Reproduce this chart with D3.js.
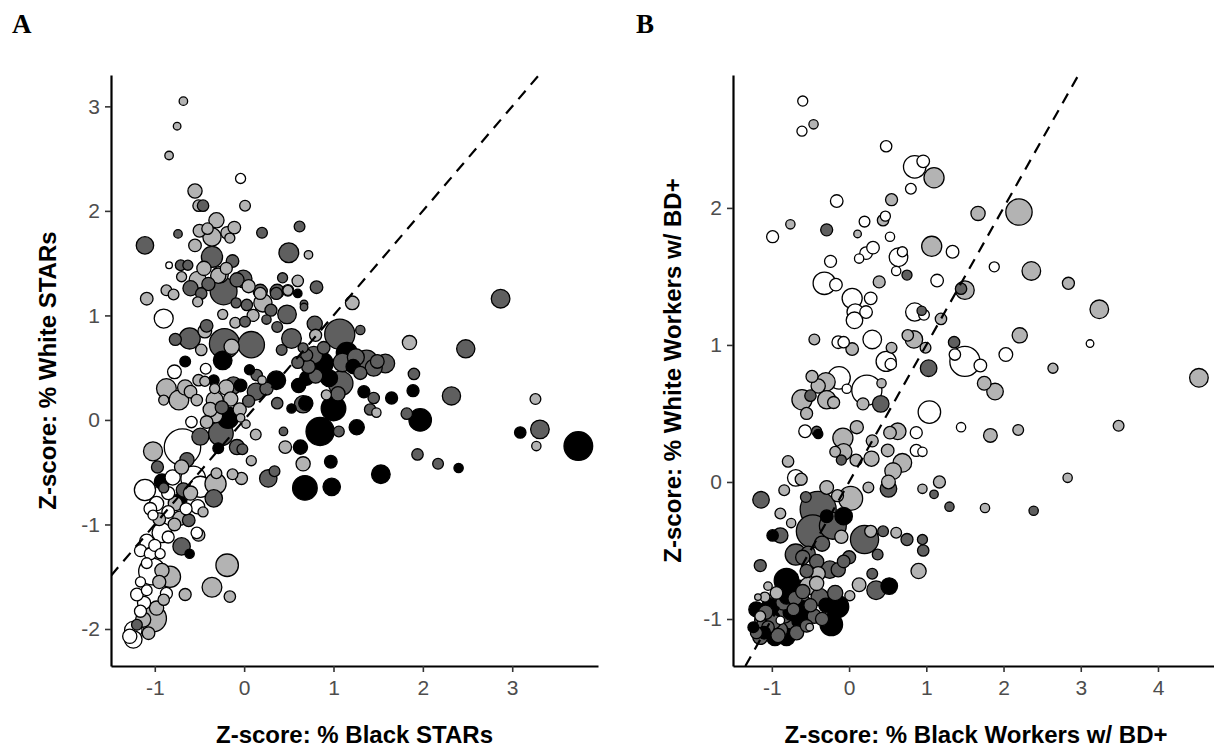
<!DOCTYPE html>
<html>
<head>
<meta charset="utf-8">
<script src="https://cdn.jsdelivr.net/npm/d3@7"></script>
<style>
  body { margin: 0; background: #fff; }
  svg { display: block; font-family: "Liberation Sans", Arial, sans-serif; }
</style>
</head>
<body>
<svg id="chart" width="1214" height="749"></svg>
<script>
// groups: 1 = white, 2 = light gray, 3 = dark gray, 4 = black
const groupFill = {1: "#ffffff", 2: "#b3b3b3", 3: "#5f5f5f", 4: "#000000"}

// panel A: [z black STARs, z white STARs, size, group]
const starsPoints = [
  [-0.68, 3.05, 5, 2], [-0.75, 2.81, 4, 2], [-0.84, 2.53, 5, 2], [-0.04, 2.31, 7, 1],
  [-0.55, 2.19, 14, 2], [-0.51, 2.05, 9, 2], [-0.46, 2.05, 9, 3], [0.01, 2.05, 8, 2],
  [-0.31, 1.91, 16, 2], [-0.50, 1.81, 11, 2], [-0.41, 1.83, 9, 2], [-0.36, 1.75, 23, 2],
  [-0.19, 1.79, 11, 2], [-0.11, 1.84, 11, 2], [-0.16, 1.74, 7, 2], [-0.55, 1.67, 11, 2],
  [-0.74, 1.78, 5, 3], [0.20, 1.79, 8, 3], [0.62, 1.85, 8, 3], [-1.11, 1.67, 21, 3],
  [-0.36, 1.56, 31, 3], [0.50, 1.60, 27, 3], [0.72, 1.58, 5, 2], [-0.13, 1.52, 11, 3],
  [-0.84, 1.48, 3, 1], [-0.71, 1.48, 8, 3], [-0.63, 1.48, 7, 3], [-0.70, 1.37, 7, 2],
  [-0.52, 1.34, 20, 2], [-0.29, 1.38, 16, 2], [-0.01, 1.35, 21, 3], [-0.08, 1.34, 14, 3],
  [0.43, 1.36, 7, 3], [0.60, 1.33, 9, 2], [0.81, 1.27, 11, 3], [-0.87, 1.24, 8, 2],
  [-0.79, 1.20, 8, 2], [-0.60, 1.26, 16, 3], [-0.23, 1.23, 50, 3], [0.18, 1.23, 14, 3],
  [0.37, 1.23, 14, 3], [0.49, 1.24, 9, 2], [0.60, 1.21, 5, 4], [-1.09, 1.16, 11, 2],
  [-0.90, 0.97, 25, 1], [-0.48, 1.21, 9, 3], [-0.52, 1.13, 7, 2], [-0.27, 1.39, 19, 2],
  [-0.09, 1.12, 7, 3], [-0.24, 1.01, 7, 2], [0.03, 1.10, 9, 3], [-0.10, 0.93, 8, 2],
  [0.01, 0.94, 8, 3], [0.21, 1.12, 23, 2], [0.18, 1.21, 10, 2], [0.25, 0.96, 6, 3],
  [0.36, 1.21, 10, 3], [0.37, 0.89, 8, 3], [0.48, 1.01, 24, 3], [0.49, 1.24, 7, 2],
  [0.67, 1.11, 4, 3], [0.67, 1.08, 4, 3], [1.21, 1.12, 13, 2], [0.79, 0.92, 16, 3],
  [0.80, 0.81, 10, 2], [0.53, 0.78, 27, 3], [1.07, 0.82, 63, 3], [1.30, 0.86, 6, 3],
  [1.85, 0.74, 14, 2], [2.48, 0.68, 23, 3], [2.87, 1.16, 24, 3], [1.90, 0.44, 9, 3],
  [0.08, 0.72, 48, 3], [-0.22, 0.73, 63, 3], [-0.14, 0.70, 16, 2], [-0.24, 0.57, 24, 4],
  [-0.61, 0.78, 31, 3], [-0.44, 0.85, 13, 2], [-0.42, 0.90, 11, 3], [-0.77, 0.77, 10, 3],
  [-0.48, 0.67, 9, 2], [-0.66, 0.56, 8, 4], [-0.78, 0.46, 13, 1], [-0.43, 0.49, 8, 1],
  [0.06, 0.48, 7, 4], [0.42, 0.67, 8, 3], [0.66, 0.69, 7, 3], [0.70, 0.62, 10, 3],
  [0.72, 0.51, 13, 3], [0.87, 0.54, 35, 4], [0.89, 0.69, 11, 3], [1.15, 0.64, 31, 4],
  [1.37, 0.56, 35, 3], [1.58, 0.54, 24, 3], [1.49, 0.56, 13, 3], [0.36, 0.38, 24, 4],
  [0.14, 0.43, 9, 3], [0.20, 0.38, 5, 2], [-0.87, 0.30, 27, 2], [-0.73, 0.19, 27, 2],
  [-0.66, 0.31, 16, 2], [-0.60, 0.27, 11, 2], [-0.53, 0.19, 9, 2], [-0.90, 0.19, 7, 2],
  [-0.51, 0.38, 9, 2], [-0.44, 0.37, 7, 2], [-0.34, 0.38, 8, 4], [-0.33, 0.19, 20, 2],
  [-0.33, 0.30, 7, 2], [-0.20, 0.31, 16, 2], [-0.12, 0.33, 20, 3], [-0.04, 0.33, 11, 4],
  [0.13, 0.27, 20, 3], [0.61, 0.33, 14, 4], [0.70, 0.40, 14, 4], [0.78, 0.62, 21, 3],
  [1.08, 0.35, 42, 3], [1.22, 0.51, 14, 4], [0.37, 0.16, 9, 3], [0.53, 0.11, 6, 4],
  [0.66, 0.15, 21, 3], [0.69, 0.16, 14, 4], [1.00, 0.11, 42, 4], [0.92, 0.24, 7, 2],
  [0.85, -0.11, 55, 4], [1.06, -0.11, 8, 3], [0.44, -0.11, 5, 3], [0.46, -0.26, 11, 2],
  [0.63, -0.26, 14, 4], [0.66, -0.42, 14, 2], [0.97, -0.40, 11, 4], [0.68, -0.65, 42, 4],
  [0.98, -0.64, 21, 4], [0.27, -0.56, 21, 3], [0.34, -0.49, 8, 3], [-0.13, -0.52, 8, 2],
  [-0.03, -0.56, 10, 2], [0.08, -0.39, 7, 2], [0.13, -0.14, 8, 2], [0.02, -0.04, 5, 2],
  [-0.04, 0.02, 5, 2], [-0.18, 0.02, 31, 4], [-0.26, -0.13, 42, 3], [-0.32, 0.04, 14, 2],
  [-0.42, -0.02, 11, 2], [-0.49, -0.16, 20, 3], [-0.59, -0.02, 9, 1], [-0.08, -0.26, 16, 3],
  [-0.02, -0.28, 8, 3], [-0.29, -0.27, 8, 4], [-0.69, -0.26, 92, 1], [-1.02, -0.30, 25, 2],
  [-0.97, -0.45, 10, 3], [-0.64, -0.38, 14, 3], [-1.11, -0.67, 31, 1], [-0.92, -0.59, 16, 4],
  [-0.90, -0.65, 7, 3], [-0.72, -0.77, 14, 4], [-0.68, -0.67, 14, 3], [-0.57, -0.56, 42, 1],
  [-0.49, -0.64, 31, 1], [-0.32, -0.61, 31, 2], [-0.34, -0.75, 21, 3], [-0.31, -0.51, 8, 2],
  [-0.52, -0.83, 14, 1], [-0.46, -0.88, 7, 2], [-0.77, -0.80, 14, 2], [-0.98, -0.80, 14, 1],
  [-1.05, -0.85, 11, 1], [-0.85, -0.88, 11, 1], [-0.72, -0.94, 14, 2], [-0.62, -0.96, 11, 3],
  [-1.02, -0.91, 7, 1], [-0.92, -1.08, 27, 1], [-0.85, -1.12, 10, 1], [-0.53, -1.08, 9, 1],
  [-0.51, -1.10, 11, 2], [-0.70, -1.21, 21, 3], [-0.61, -1.28, 6, 4], [-1.09, -1.16, 14, 1],
  [-1.16, -1.25, 10, 1], [-1.05, -1.28, 10, 1], [-0.94, -1.28, 7, 1], [-1.09, -1.37, 8, 1],
  [-1.03, -1.45, 50, 1], [-0.92, -1.44, 14, 2], [-0.83, -1.50, 31, 2], [-1.16, -1.55, 7, 1],
  [-1.09, -1.63, 8, 1], [-1.20, -1.67, 11, 1], [-0.87, -1.66, 10, 1], [-0.90, -1.72, 9, 2],
  [-0.66, -1.67, 10, 2], [-0.36, -1.60, 27, 2], [-0.19, -1.39, 35, 2], [-0.16, -1.69, 9, 2],
  [-1.02, -1.90, 50, 2], [-1.16, -1.83, 10, 1], [-1.13, -1.91, 16, 2], [-1.24, -2.01, 21, 1],
  [-1.24, -2.10, 21, 1], [-1.28, -2.07, 14, 1], [-1.20, -1.96, 8, 3], [-1.07, -2.04, 11, 2],
  [1.34, 0.27, 10, 4], [1.45, 0.21, 9, 3], [1.41, 0.10, 9, 3], [1.48, 0.07, 6, 2],
  [1.65, 0.21, 10, 4], [1.89, 0.28, 10, 4], [1.82, 0.06, 9, 3], [1.97, 0.00, 35, 4],
  [1.94, -0.33, 9, 3], [2.17, -0.42, 8, 3], [2.40, -0.46, 6, 4], [1.53, -0.52, 24, 4],
  [2.32, 0.23, 23, 3], [3.26, 0.20, 8, 2], [3.31, -0.09, 24, 3], [3.09, -0.12, 9, 4],
  [3.27, -0.25, 6, 2], [3.74, -0.25, 57, 4], [1.26, -0.07, 16, 4],
  [1.10, 0.55, 24, 3], [1.25, 0.60, 20, 3], [1.45, 0.50, 20, 3], [0.95, 0.40, 20, 4],
  [1.05, 0.25, 14, 3], [0.80, 0.42, 14, 3], [1.30, 0.45, 12, 3], [0.60, 0.55, 10, 3],
  [-0.38, 0.10, 14, 2], [-0.25, 0.12, 12, 3], [-0.15, 0.20, 14, 2], [0.05, 0.18, 10, 3],
  [-0.05, 0.10, 12, 2], [0.25, 0.30, 12, 3], [-0.80, -0.55, 16, 1], [-0.70, -0.45, 14, 2],
  [-0.60, -0.70, 14, 2], [-0.85, -0.70, 12, 1], [-0.95, -0.95, 11, 2], [-0.78, -1.00, 11, 2],
  [-0.65, -0.85, 10, 1], [-1.00, -1.20, 10, 1], [-0.95, -1.55, 12, 2], [-1.12, -1.75, 12, 1],
  [-0.98, -1.80, 14, 2], [-0.45, 1.45, 14, 2], [-0.40, 1.30, 12, 3], [-0.20, 1.45, 10, 2],
  [0.05, 1.28, 12, 2], [0.30, 1.05, 10, 3], [0.10, 1.00, 10, 2]
]

// panel B: [z black workers BD+, z white workers BD+, size, group]
const workersPoints = [
  [-0.60, 2.78, 7, 1], [-0.61, 2.56, 7, 1], [-0.46, 2.61, 6, 2], [0.48, 2.45, 9, 1],
  [0.85, 2.30, 35, 1], [0.96, 2.34, 11, 1], [1.10, 2.22, 28, 2], [0.80, 2.14, 8, 1],
  [-0.16, 2.05, 11, 1], [0.55, 2.06, 10, 2], [-0.76, 1.88, 6, 2], [-0.99, 1.79, 10, 1],
  [-0.29, 1.84, 10, 3], [0.20, 1.90, 8, 1], [0.44, 1.91, 9, 2], [0.47, 1.94, 7, 1],
  [0.11, 1.81, 4, 2], [0.53, 1.79, 6, 1], [1.07, 1.72, 28, 2], [1.34, 1.68, 11, 1],
  [1.67, 1.96, 14, 2], [2.20, 1.97, 48, 2], [1.88, 1.57, 7, 1], [2.36, 1.54, 24, 2],
  [2.84, 1.45, 10, 2], [3.24, 1.26, 24, 2], [3.12, 1.01, 4, 1], [2.64, 0.83, 7, 2],
  [2.21, 1.07, 16, 2], [2.03, 0.93, 13, 1], [1.50, 1.40, 24, 2], [1.45, 1.41, 9, 3],
  [1.14, 1.47, 11, 1], [1.19, 1.19, 9, 2], [1.36, 1.02, 9, 3], [1.37, 0.93, 9, 1],
  [1.50, 0.88, 63, 1], [1.70, 0.85, 11, 1], [1.03, 0.83, 19, 3], [0.84, 1.04, 21, 2],
  [0.76, 1.07, 9, 2], [0.99, 0.98, 8, 2], [0.85, 1.24, 23, 1], [0.94, 1.25, 6, 3],
  [0.97, 1.22, 8, 1], [0.64, 1.64, 24, 1], [0.69, 1.68, 7, 1], [0.75, 1.51, 7, 3],
  [0.61, 1.54, 6, 1], [0.39, 1.46, 10, 2], [-0.24, 1.61, 10, 1], [-0.32, 1.45, 35, 1],
  [-0.17, 1.44, 11, 1], [0.13, 1.63, 6, 1], [0.22, 1.67, 11, 1], [0.31, 1.71, 11, 1],
  [0.04, 1.34, 28, 1], [0.28, 1.34, 11, 1], [0.08, 1.24, 19, 1], [0.07, 1.18, 19, 1],
  [0.22, 1.24, 11, 1], [0.30, 1.04, 24, 1], [-0.45, 1.04, 8, 2], [-0.14, 1.02, 11, 1],
  [-0.07, 1.02, 9, 1], [0.04, 0.97, 11, 2], [0.55, 0.98, 8, 2], [0.48, 0.88, 28, 1],
  [0.54, 0.86, 9, 1],
  [4.53, 0.76, 24, 2], [1.89, 0.66, 19, 2], [1.75, 0.72, 13, 2], [1.04, 0.51, 35, 1],
  [1.45, 0.40, 6, 1], [1.83, 0.34, 13, 2], [2.19, 0.38, 8, 2], [3.49, 0.41, 8, 2],
  [0.87, 0.36, 10, 1], [0.87, 0.23, 10, 1], [0.95, 0.22, 6, 1], [2.83, 0.03, 6, 2],
  [1.17, 0.00, 10, 2], [0.95, -0.05, 6, 2], [1.10, -0.09, 5, 3], [1.30, -0.18, 6, 3],
  [1.76, -0.19, 6, 2], [2.39, -0.21, 6, 3], [0.90, -0.65, 16, 2], [0.95, -0.42, 7, 3],
  [0.96, -0.50, 9, 3], [0.75, -0.42, 10, 3], [0.61, -0.37, 8, 2], [0.44, -0.36, 8, 3],
  [0.28, -0.36, 10, 2], [0.20, -0.42, 55, 3], [0.37, -0.53, 8, 3], [0.52, -0.76, 19, 4],
  [0.35, -0.79, 24, 3], [0.13, -0.75, 13, 2], [0.30, -0.67, 8, 3], [0.01, -0.83, 7, 2],
  [-0.15, -0.91, 35, 4], [-0.23, -1.04, 35, 4], [-0.51, -1.06, 4, 2], [0.02, -0.12, 40, 2],
  [-0.07, -0.25, 21, 4], [-0.21, -0.32, 50, 3], [-0.40, -0.20, 90, 3], [-0.47, -0.36, 75, 3],
  [-0.69, -0.53, 31, 3], [-0.89, -0.39, 16, 3], [-0.99, -0.39, 9, 4], [-0.89, -0.23, 8, 2],
  [-0.75, -0.30, 6, 2], [-1.14, -0.13, 19, 3], [-0.84, -0.06, 8, 2], [-0.79, 0.15, 9, 2],
  [-0.69, 0.03, 19, 1], [-0.62, 0.02, 10, 2], [-0.56, -0.11, 8, 3], [-0.29, -0.04, 13, 2],
  [-0.15, -0.10, 10, 2], [0.25, -0.04, 8, 2], [0.51, -0.05, 19, 3], [0.51, 0.00, 13, 2],
  [-0.08, 0.32, 28, 2], [-0.07, 0.22, 19, 2], [0.09, 0.16, 10, 2], [0.29, 0.17, 16, 2],
  [0.50, 0.23, 11, 2], [-0.10, 0.16, 7, 3], [-0.18, 0.22, 8, 2], [0.53, 0.36, 11, 2],
  [0.63, 0.37, 19, 2], [0.69, 0.14, 24, 2], [0.57, 0.08, 19, 2], [-0.57, 0.37, 11, 1],
  [-0.42, 0.37, 7, 3], [-0.40, 0.35, 6, 4], [-0.61, 0.60, 28, 2], [-0.50, 0.63, 9, 3],
  [-0.29, 0.60, 23, 2], [-0.20, 0.58, 10, 2], [0.23, 0.67, 63, 1], [0.41, 0.57, 19, 3],
  [0.18, 0.57, 10, 2], [0.42, 0.72, 6, 2], [-0.03, 0.68, 6, 1], [-0.48, 0.77, 10, 2],
  [-0.30, 0.73, 24, 2], [-0.13, 0.76, 35, 1],
  [-0.29, -0.25, 11, 4], [-0.53, -0.52, 14, 3], [-1.15, -0.61, 10, 3], [-0.42, -0.58, 14, 3],
  [-0.25, -0.64, 21, 3], [-0.40, -0.67, 14, 2], [-0.07, -0.58, 11, 3], [-0.14, -0.64, 14, 3],
  [-0.81, -0.72, 42, 4], [-0.68, -0.79, 31, 4], [-0.53, -0.76, 21, 2], [-0.42, -0.74, 14, 2],
  [-0.63, -0.89, 31, 3], [-0.38, -0.84, 21, 3], [-0.18, -0.81, 16, 3],
  [-1.20, -0.93, 16, 4], [-1.11, -1.01, 21, 3], [-1.02, -0.91, 21, 4], [-0.85, -0.96, 27, 3],
  [-0.76, -1.03, 42, 3], [-0.63, -1.01, 21, 4], [-1.15, -1.13, 16, 3], [-0.96, -1.13, 21, 4],
  [-0.81, -1.13, 21, 4], [-0.68, -1.10, 14, 3], [-1.05, -1.06, 11, 3], [-1.24, -1.06, 8, 4],
  [-0.94, -0.81, 11, 2], [-1.09, -0.84, 7, 2], [-0.81, -0.84, 14, 4], [-0.59, -0.93, 21, 4],
  [-1.05, -0.76, 5, 2], [-1.18, -0.84, 3, 2], [-0.89, -1.01, 5, 1], [-1.10, -1.10, 11, 4],
  [-0.98, -1.02, 15, 3], [-1.15, -0.98, 8, 2], [-0.72, -0.93, 11, 3], [-0.55, -1.05, 11, 3],
  [-1.00, -1.00, 20, 4], [-0.90, -1.08, 18, 3], [-0.75, -0.95, 18, 4], [-1.08, -0.95, 14, 3],
  [-0.85, -0.88, 16, 3], [-0.70, -0.85, 14, 3], [-0.92, -1.12, 14, 3], [-1.12, -1.05, 12, 3],
  [-0.60, -0.80, 14, 3], [-0.50, -0.90, 12, 3], [-0.45, -0.98, 14, 3], [-1.20, -1.10, 10, 3],
  [-0.35, -1.00, 12, 3], [-0.30, -0.90, 14, 4], [-0.60, -0.55, 14, 3], [-0.35, -0.45, 16, 3],
  [-0.10, -0.40, 12, 2], [-0.55, -0.65, 12, 3], [0.00, -0.55, 12, 3], [-0.40, 0.70, 14, 2],
  [-0.55, 0.50, 10, 2], [0.10, 0.40, 12, 2], [0.30, 0.30, 10, 2]
]

const starsXTicks = [-1, 0, 1, 2, 3]
const starsYTicks = [-2, -1, 0, 1, 2, 3]
const workersXTicks = [-1, 0, 1, 2, 3, 4]
const workersYTicks = [-1, 0, 1, 2]

const panels = [
  {
    label: "A", points: starsPoints,
    xTicks: starsXTicks, yTicks: starsYTicks,
    xTitle: "Z-score: % Black STARs", yTitle: "Z-score: % White STARs",
    xDomain: [-1.49, 3.96], yDomain: [-2.354, 3.30],
    left: 111, right: 598, labelX: 12, yTitleX: 56
  },
  {
    label: "B", points: workersPoints,
    xTicks: workersXTicks, yTicks: workersYTicks,
    xTitle: "Z-score: % Black Workers w/ BD+", yTitle: "Z-score: % White Workers w/ BD+",
    xDomain: [-1.503, 4.79], yDomain: [-1.343, 2.97],
    left: 733, right: 1219, labelX: 636, yTitleX: 681
  }
]

const plotTop = 75, plotBottom = 666

const svg = d3.select("#chart")

// same area scale for both panels
const rScale = d3.scaleSqrt().domain([0, 100]).range([0, 19])

panels.forEach((p, i) => {
  const x = d3.scaleLinear().domain(p.xDomain).range([p.left, p.right])
  const y = d3.scaleLinear().domain(p.yDomain).range([plotBottom, plotTop])
  const g = svg.append("g")

  const clipId = "clip" + i
  svg.append("clipPath").attr("id", clipId)
    .append("rect")
    .attr("x", p.left).attr("y", plotTop)
    .attr("width", p.right - p.left).attr("height", plotBottom - plotTop)

  // bigger circles first so the small ones stay visible
  const pts = p.points.slice().sort((a, b) => b[2] - a[2])
  g.append("g")
    .selectAll("circle")
    .data(pts)
    .join("circle")
    .attr("cx", d => x(d[0]))
    .attr("cy", d => y(d[1]))
    .attr("r", d => rScale(d[2]))
    .attr("fill", d => groupFill[d[3]])
    .attr("stroke", "#000")
    .attr("stroke-width", 1.3)

  // identity line y = x
  const lo = Math.max(p.xDomain[0], p.yDomain[0])
  const hi = Math.min(p.xDomain[1], p.yDomain[1])
  g.append("line")
    .attr("clip-path", `url(#${clipId})`)
    .attr("x1", x(lo)).attr("y1", y(lo))
    .attr("x2", x(hi)).attr("y2", y(hi))
    .attr("stroke", "#000")
    .attr("stroke-width", 2.2)
    .attr("stroke-dasharray", "11,8")

  const xAxis = g.append("g")
    .attr("transform", `translate(0,${plotBottom})`)
    .call(d3.axisBottom(x).tickValues(p.xTicks).tickSize(6).tickSizeOuter(0).tickPadding(8))
  const yAxis = g.append("g")
    .attr("transform", `translate(${p.left},0)`)
    .call(d3.axisLeft(y).tickValues(p.yTicks).tickSize(6).tickSizeOuter(0).tickPadding(5))

  ;[xAxis, yAxis].forEach(ax => {
    ax.select(".domain").attr("stroke", "#000").attr("stroke-width", 2.2)
    ax.selectAll(".tick line").attr("stroke", "#333").attr("stroke-width", 1.6)
    ax.selectAll(".tick text")
      .attr("fill", "#4d4d4d")
      .style("font-size", "21px")
      .style("font-family", '"Liberation Sans", Arial, sans-serif')
      .text(d => d < 0 ? "-" + Math.abs(d) : d)
  })

  g.append("text")
    .attr("x", (p.left + p.right) / 2)
    .attr("y", 743)
    .attr("text-anchor", "middle")
    .style("font-size", "24px")
    .style("font-weight", "bold")
    .text(p.xTitle)

  g.append("text")
    .attr("transform", `translate(${p.yTitleX},${(plotTop + plotBottom) / 2}) rotate(-90)`)
    .attr("text-anchor", "middle")
    .style("font-size", "24px")
    .style("font-weight", "bold")
    .text(p.yTitle)

  g.append("text")
    .attr("x", p.labelX)
    .attr("y", 33)
    .style("font-family", '"Liberation Serif", "Times New Roman", serif')
    .style("font-size", "27px")
    .style("font-weight", "bold")
    .text(p.label)
})
</script>
</body>
</html>
